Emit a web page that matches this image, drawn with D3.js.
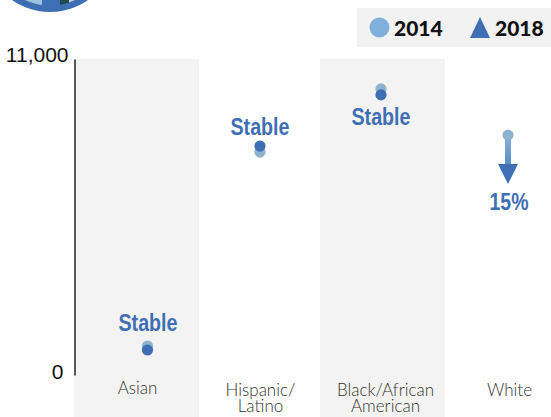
<!DOCTYPE html>
<html>
<head>
<meta charset="utf-8">
<script src="https://d3js.org/d3.v7.min.js"></script>
<style>
  html, body { margin: 0; padding: 0; background: #fff; }
  svg { display: block; }
</style>
</head>
<body>
<div id="chart"></div>
<script>
// values
var categories = ["Asian", "Hispanic/\nLatino", "Black/African\nAmerican", "White"];
var values2014 = [1010, 7760, 9960, 8350];
var values2018 = [870, 7970, 9750, 6650];
var changeLabels = ["Stable", "Stable", "Stable", "15%"];
var yTicks = [0, 11000];
var legendYears = ["2014", "2018"];

var width = 551, height = 417;
var blue = "#3e6fb5", paleBlue = "#8fb2cf", legendBlue = "#7fb0dc";

var svg = d3.select("#chart").append("svg")
  .attr("width", width)
  .attr("height", height);

var x = d3.scaleBand()
  .domain(categories)
  .range([75, 567])
  .padding(0);

var y = d3.scaleLinear()
  .domain([0, 11000])
  .range([375, 59]);

// shaded columns, every other one
svg.append("g")
  .selectAll("rect")
  .data(categories.filter(function(d, i) { return i % 2 == 0; }))
  .enter()
  .append("rect")
  .attr("x", function(d) { return x(d) - 1; })
  .attr("y", 59)
  .attr("width", x.bandwidth() + 2)
  .attr("height", height - 59)
  .attr("fill", "#f3f3f3");

// y axis, only the two end labels
var yAxis = svg.append("g")
  .attr("transform", "translate(74.5,0)")
  .call(d3.axisLeft(y).tickValues(yTicks).tickSize(0).tickPadding(6).tickFormat(d3.format(",")));
yAxis.select(".domain").attr("stroke", "#222").attr("stroke-width", 1.5);
yAxis.selectAll("text")
  .style("font-family", "'Liberation Sans', Arial, sans-serif")
  .style("font-size", "21px")
  .style("fill", "#111");
// the zero label sits further left and both sit a little above their value
yAxis.selectAll(".tick").attr("transform", function(d) {
  return d == 0 ? "translate(-5," + (y(d) - 3) + ")" : "translate(0," + (y(d) - 4) + ")";
});

// x labels, two lines where the name wraps
var labelDx = [1, 1, 3, 4];
var xLabels = svg.append("g")
  .selectAll("text")
  .data(categories)
  .enter()
  .append("text")
  .attr("text-anchor", "middle")
  .attr("x", function(d, i) { return x(d) + x.bandwidth() / 2 + labelDx[i]; })
  .attr("y", function(d, i) { return i == 0 ? 394 : 396; })
  .style("font-family", "Lato, 'Open Sans', sans-serif")
  .style("font-weight", "300")
  .style("font-size", "17px")
  .style("fill", "#35332b");
xLabels.selectAll("tspan")
  .data(function(d) { return d.split("\n"); })
  .enter()
  .append("tspan")
  .attr("x", function() { return this.parentNode.getAttribute("x"); })
  .attr("dy", function(d, i) { return i == 0 ? 0 : 16; })
  .text(function(d) { return d; });

// dots do not sit exactly on the column centres in the original
var dotDx = [11, 0.5, -1.5, 2.5];
var dotX = function(i) { return x(categories[i]) + x.bandwidth() / 2 + dotDx[i]; };

// 2014 dots
svg.append("g")
  .selectAll("circle")
  .data(values2014)
  .enter()
  .append("circle")
  .attr("cx", function(d, i) { return dotX(i); })
  .attr("cy", function(d) { return y(d); })
  .attr("r", 5.6)
  .attr("fill", paleBlue);

// 2018 dots, White gets an arrow instead
svg.append("g")
  .selectAll("circle")
  .data(values2018.slice(0, 3))
  .enter()
  .append("circle")
  .attr("cx", function(d, i) { return dotX(i); })
  .attr("cy", function(d) { return y(d); })
  .attr("r", 5.6)
  .attr("fill", blue);

// arrow for the White column
var defs = svg.append("defs");
var grad = defs.append("linearGradient")
  .attr("id", "shaft")
  .attr("x1", 0).attr("x2", 0).attr("y1", 0).attr("y2", 1);
grad.append("stop").attr("offset", "0%").attr("stop-color", "#82afd9");
grad.append("stop").attr("offset", "100%").attr("stop-color", "#5c8cc6");

var ax = dotX(3), ay0 = y(values2014[3]), ay1 = y(values2018[3]);
svg.append("rect")
  .attr("x", ax - 3)
  .attr("y", ay0 + 4)
  .attr("width", 6)
  .attr("height", ay1 - ay0 - 24)
  .attr("fill", "url(#shaft)");
svg.append("path")
  .attr("d", d3.line()([[ax - 10, ay1 - 20], [ax + 10, ay1 - 20], [ax, ay1]]) + "Z")
  .attr("fill", blue);

// change labels
var labelDy = [-19, -11, 30, 26];
var changeDx = [0.5, 0, 0, 1];
svg.append("g")
  .selectAll("text")
  .data(changeLabels)
  .enter()
  .append("text")
  .attr("text-anchor", "middle")
  .attr("x", function(d, i) { return dotX(i) + changeDx[i]; })
  .attr("y", function(d, i) { return y(values2018[i]) + labelDy[i]; })
  .attr("textLength", function(d) { return d == "Stable" ? 59 : 39; })
  .attr("lengthAdjust", "spacingAndGlyphs")
  .style("font-family", "'Liberation Sans', Arial, sans-serif")
  .style("font-weight", "bold")
  .style("font-size", "24px")
  .style("fill", blue)
  .text(function(d) { return d; });

// legend
svg.append("rect")
  .attr("x", 357).attr("y", 8)
  .attr("width", 194).attr("height", 39)
  .attr("fill", "#f2f2f2");
svg.append("circle")
  .attr("cx", 379.5).attr("cy", 27.5).attr("r", 10)
  .attr("fill", legendBlue);
svg.append("path")
  .attr("d", d3.line()([[470, 38], [490, 38], [480, 17]]) + "Z")
  .attr("fill", blue);
svg.append("g")
  .selectAll("text")
  .data(legendYears)
  .enter()
  .append("text")
  .attr("x", function(d, i) { return i == 0 ? 394 : 495; })
  .attr("y", 36)
  .style("font-family", "Lato, sans-serif")
  .style("font-weight", "900")
  .style("font-size", "21px")
  .style("fill", "#111")
  .text(function(d) { return d; });

// bottom of the round photo at the top left, cut by the edge of the image
defs.append("clipPath").attr("id", "photoClip")
  .append("circle").attr("cx", 50).attr("cy", -54).attr("r", 59.5);
var photo = svg.append("g");
photo.append("circle").attr("cx", 50).attr("cy", -54).attr("r", 66).attr("fill", blue);
var inner = photo.append("g").attr("clip-path", "url(#photoClip)");
inner.append("rect").attr("x", 10).attr("y", 0).attr("width", 14).attr("height", 6).attr("fill", "#16395e");
inner.append("rect").attr("x", 24).attr("y", 0).attr("width", 18).attr("height", 6).attr("fill", "#9cc3dd");
inner.append("rect").attr("x", 60).attr("y", 0).attr("width", 9).attr("height", 5).attr("fill", "#1e4a50");
inner.append("rect").attr("x", 69).attr("y", 0).attr("width", 17).attr("height", 5).attr("fill", "#c4ccd2");
</script>
</body>
</html>
